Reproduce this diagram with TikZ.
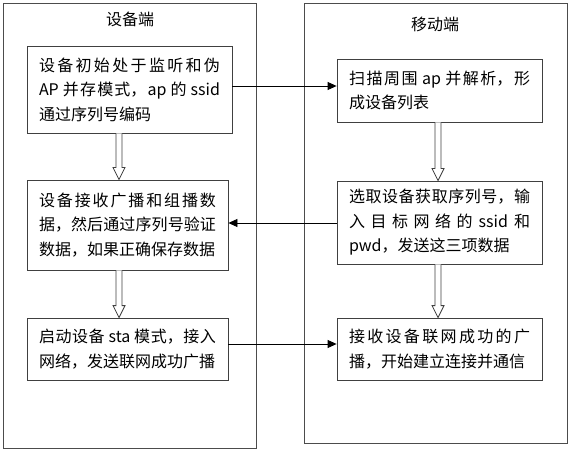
\documentclass[tikz,border=0pt]{standalone}
\usepackage{fontspec}
\setmainfont{Noto Sans CJK SC}
\usepackage{tikz}
\usetikzlibrary{arrows.meta,calc,positioning}
\XeTeXlinebreaklocale "zh"
\XeTeXlinebreakskip=0pt plus 4pt
\newcommand\nl{\linebreak}
% hollow down arrow: #1 upper node, #2 lower node, #3 column coordinate
\newcommand\hollowdown[3]{%
  \draw[hollowarr] ($(#3 |- #1.south)+(-3,0)$) -- ($(#3 |- #2.north)+(-3,12)$) -- ($(#3 |- #2.north)+(-6,12)$)
    -- (#3 |- #2.north) -- ($(#3 |- #2.north)+(6,12)$) -- ($(#3 |- #2.north)+(3,12)$) -- ($(#3 |- #1.south)+(3,0)$);}

\begin{document}
\begin{tikzpicture}[x=1pt,y=1pt,
    box/.style={draw=black!75,line width=0.8pt,inner xsep=12pt,inner ysep=0pt,align=justify,
      font=\fontsize{16pt}{24.5pt}\selectfont},
    frame/.style={draw=black!70,line width=0.8pt},
    title/.style={font=\fontsize{16pt}{20pt}\selectfont},
    conn/.style={line width=0.8pt,-{Triangle[length=9pt,width=8pt]}},
    hollowarr/.style={draw=black!75,line width=0.8pt,fill=white}]
  \useasboundingbox (0,0) rectangle (569,450);
  \draw[frame] (3,2) rectangle (256,447);
  \draw[frame] (304,7) rectangle (567,447);
  \node[title] (devt) at (130,431) {设备端};
  \node[title] (mobt) at (435,426) {移动端};
  % device side
  \node[box,text width=181pt,minimum height=87pt] (L1) at (129.5,360.5)
    {设备初始处于监听和伪\nl AP 并存模式，ap 的 ssid\nl 通过序列号编码};
  \node[box,text width=177pt,minimum height=90pt] (L2) at (127.5,225)
    {设备接收广播和组播数\nl 据，然后通过序列号验证\nl 数据，如果正确保存数据};
  \node[box,text width=177pt,minimum height=62pt] (L3) at (127.5,101)
    {启动设备 sta 模式，接入\nl 网络，发送联网成功广播};
  % mobile side
  \node[box,text width=181pt,minimum height=63pt] (R1) at (439.5,359.5)
    {扫描周围 ap 并解析，形\nl 成设备列表};
  \node[box,text width=181pt,minimum height=83pt] (R2) at (439.5,227.5)
    {选取设备获取序列号，输\nl 入目标网络的 ssid 和\nl pwd，发送这三项数据};
  \node[box,text width=181pt,minimum height=62pt] (R3) at (439.5,101)
    {接收设备联网成功的广\nl 播，开始建立连接并通信};
  \coordinate (colL) at (119,0);
  \coordinate (colR) at (438,0);
  \hollowdown{L1}{L2}{colL}
  \hollowdown{L2}{L3}{colL}
  \hollowdown{R1}{R2}{colR}
  \hollowdown{R2}{R3}{colR}
  \draw[conn] ([yshift=3.5pt]L1.east) -- ([yshift=3.5pt]L1.east -| R1.west);
  \draw[conn] ([yshift=-0.5pt]R2.west) -- ([yshift=-0.5pt]R2.west -| L2.east);
  \draw[conn] ([yshift=5pt]L3.east) -- ([yshift=5pt]L3.east -| R3.west);
\end{tikzpicture}
\end{document}
